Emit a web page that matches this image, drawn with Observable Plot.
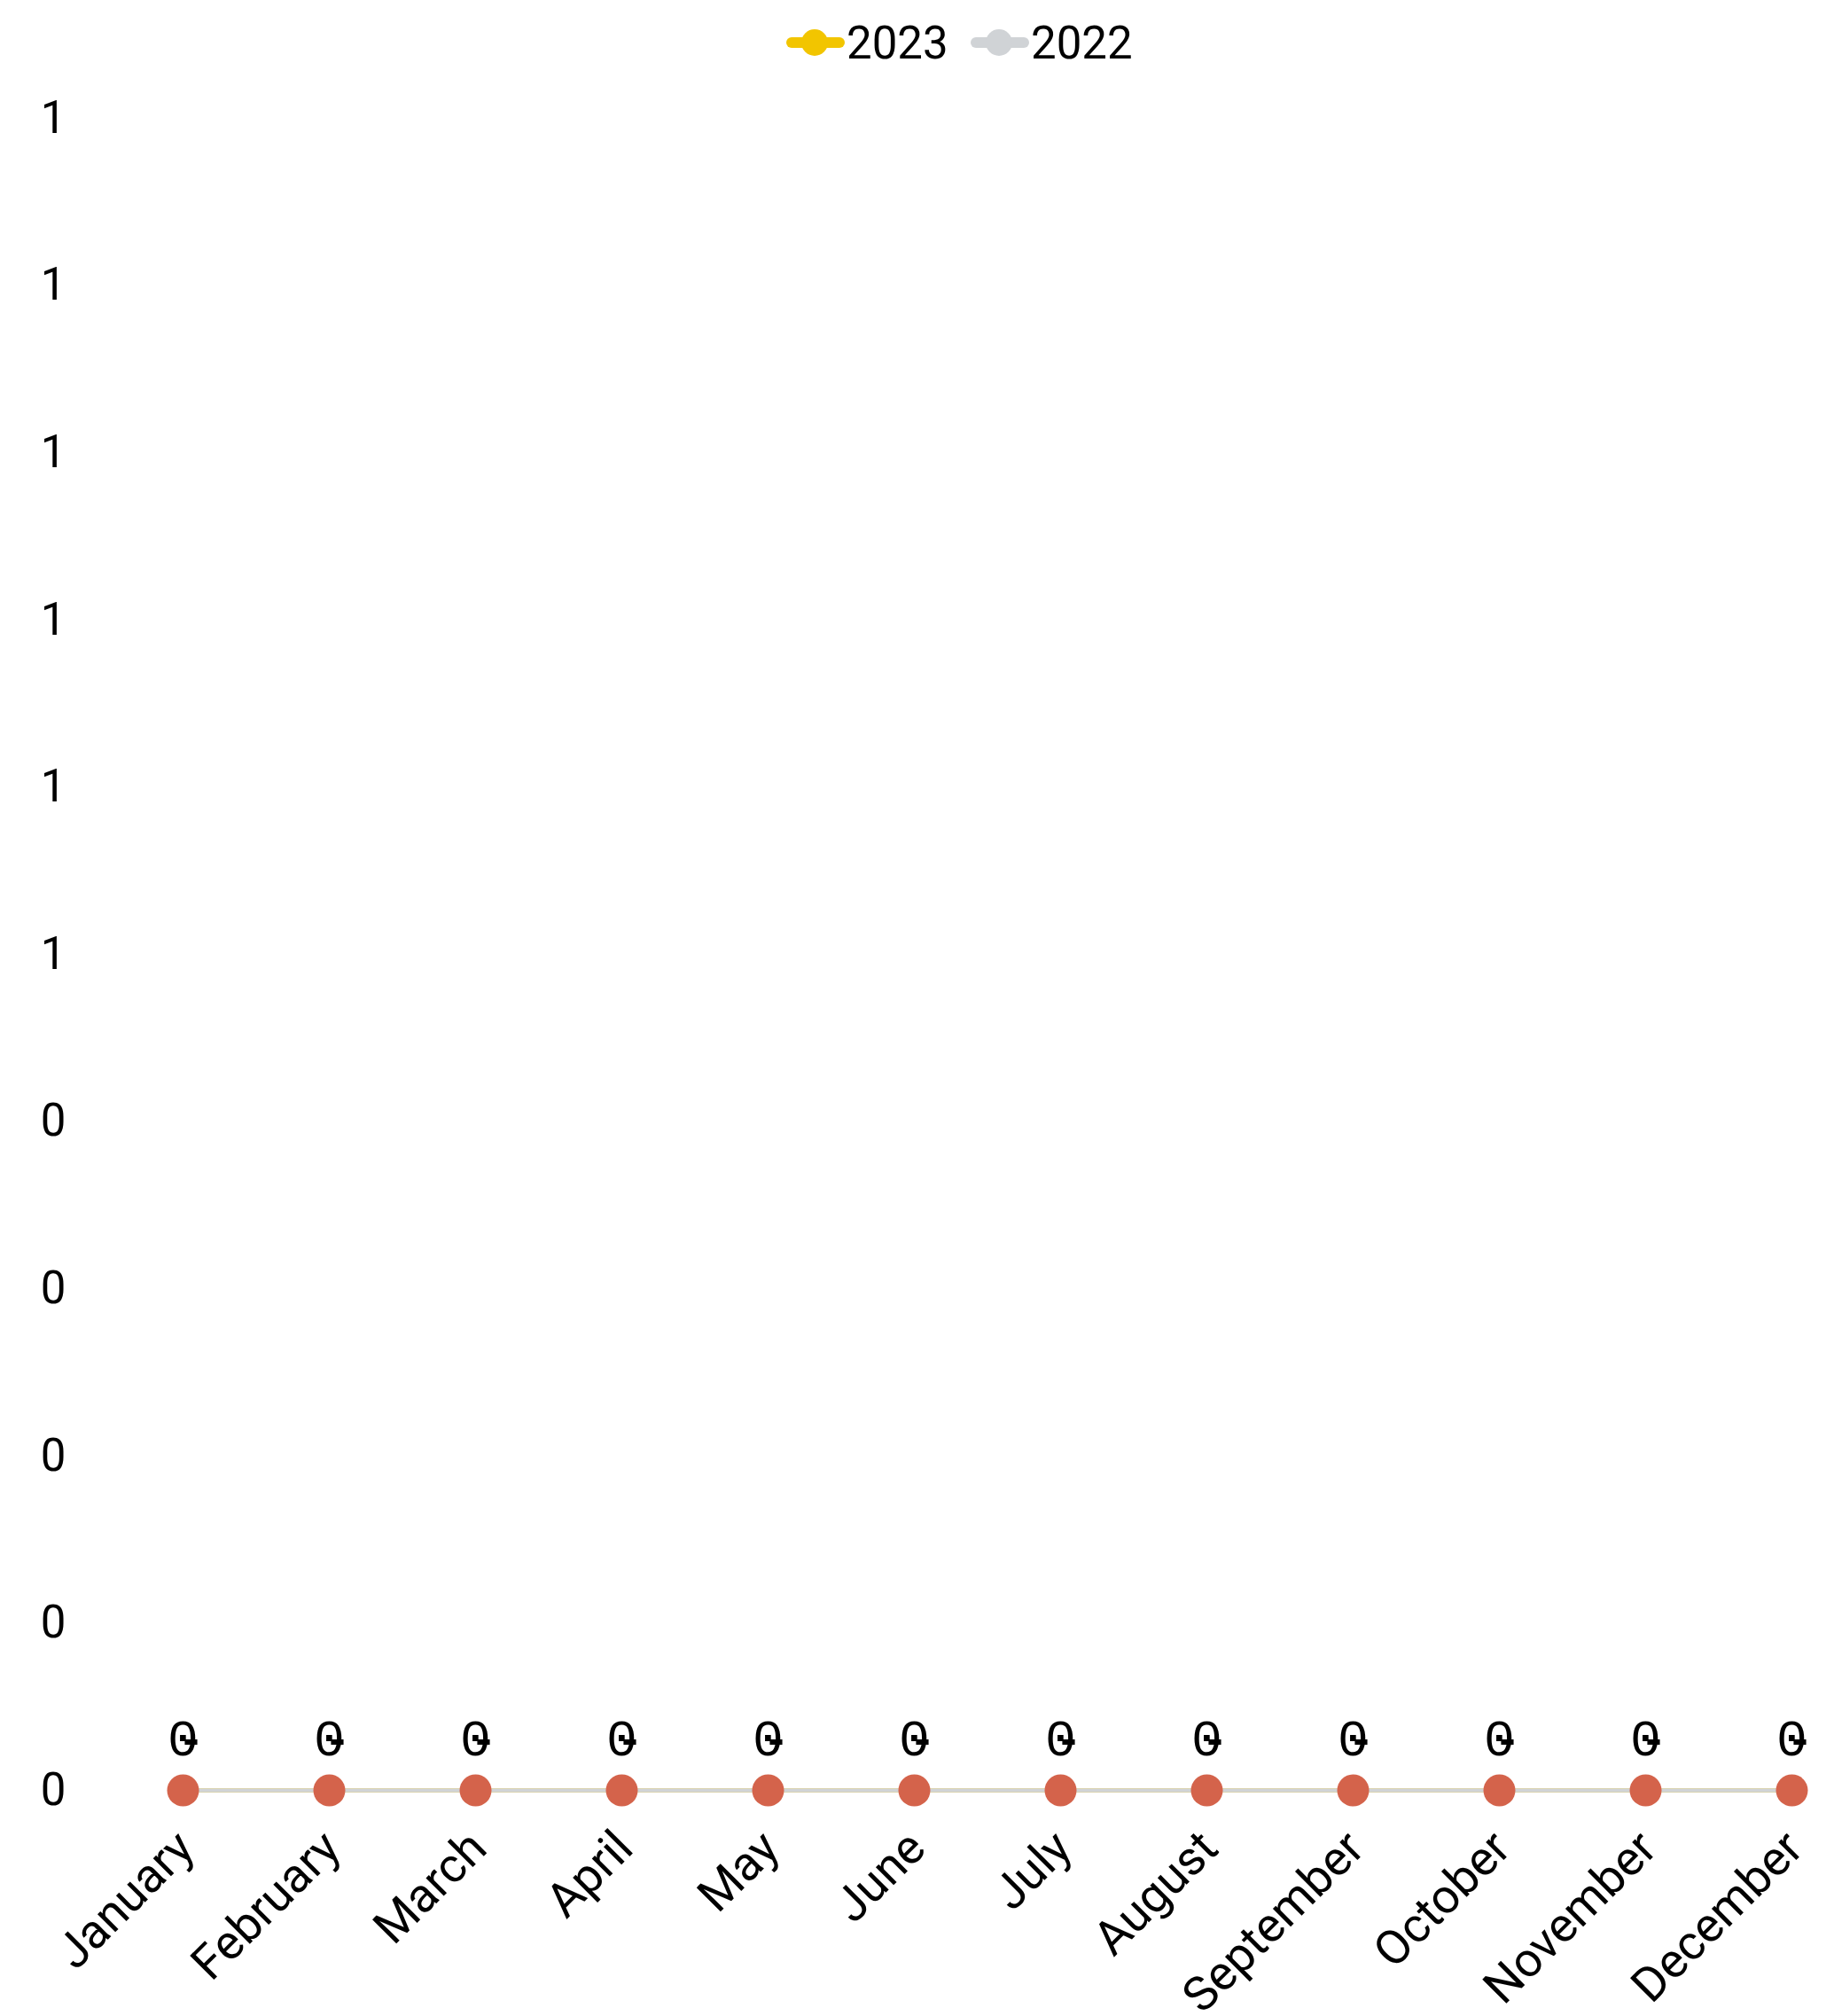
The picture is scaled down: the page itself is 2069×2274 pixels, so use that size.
<!DOCTYPE html>
<html>
<head>
<meta charset="utf-8">
<script src="https://cdn.jsdelivr.net/npm/d3@7"></script>
<script src="https://cdn.jsdelivr.net/npm/@observablehq/plot@0.6"></script>
<style>
  html, body { margin: 0; padding: 0; background: #fff; }
  body { width: 2069px; font-family: Roboto, sans-serif; }
  #legend { position: relative; height: 96px; }
  .item { position: absolute; top: 0; height: 96px; display: flex; align-items: center; font-size: 51px; color: #000; }
  .item svg { display: block; margin-right: 2px; }
</style>
</head>
<body>
<div id="legend"></div>
<div id="chart"></div>
<script>
// Monthly comparison, current year vs previous year
const months = ["January", "February", "March", "April", "May", "June",
                "July", "August", "September", "October", "November", "December"];
const values2023 = [0, 0, 0, 0, 0, 0, 0, 0, 0, 0, 0, 0];
const values2022 = [0, 0, 0, 0, 0, 0, 0, 0, 0, 0, 0, 0];
const changeLabels = ["-", "-", "-", "-", "-", "-", "-", "-", "-", "-", "-", "-"];
const yTicks = [0, 0.1, 0.2, 0.3, 0.4, 0.5, 0.6, 0.7, 0.8, 0.9, 1];
const seriesNames = ["2023", "2022"];
const seriesColors = ["#f2c500", "#d0d3d6"];
const pointColor = "#d4634b";

const rows2023 = months.map((m, i) => ({month: m, value: values2023[i], change: changeLabels[i]}));
const rows2022 = months.map((m, i) => ({month: m, value: values2022[i]}));

// Legend: line-with-dot swatches
const legend = document.getElementById("legend");
const legendX = [887, 1095];
seriesNames.forEach((name, i) => {
  const item = document.createElement("div");
  item.className = "item";
  item.style.left = legendX[i] + "px";
  item.innerHTML =
    `<svg width="66" height="40" viewBox="0 0 66 40">
       <line x1="6" y1="20" x2="60" y2="20" stroke="${seriesColors[i]}" stroke-width="12" stroke-linecap="round"/>
       <circle cx="32" cy="20" r="15" fill="${seriesColors[i]}"/>
     </svg><span>${name}</span>`;
  legend.appendChild(item);
});

const fmt = d3.format(".0f");

const chart = Plot.plot({
  width: 2069,
  height: 2178,
  marginTop: 37,
  marginBottom: 255,
  marginLeft: 203,
  marginRight: 45,
  style: {fontFamily: "Roboto, sans-serif", fontSize: "51px", color: "#000", background: "#fff"},
  x: {type: "point", domain: months, padding: 0},
  y: {domain: [0, 1]},
  marks: [
    Plot.axisY({ticks: yTicks, tickFormat: fmt, tickSize: 0, tickPadding: 129, label: null}),
    Plot.axisX({tickRotate: -45, tickSize: 0, tickPadding: 56, dx: 3, fontSize: 54, label: null}),
    Plot.line(rows2023, {x: "month", y: "value", stroke: seriesColors[0], strokeWidth: 4.5}),
    Plot.line(rows2022, {x: "month", y: "value", stroke: seriesColors[1], strokeWidth: 4.5}),
    Plot.dot(rows2023, {x: "month", y: "value", r: 18, fill: pointColor, stroke: "none"}),
    Plot.text(rows2023, {x: "month", y: "value", text: d => fmt(d.value), dy: -58,
      fontFamily: "Liberation Mono, monospace", fontSize: 58, fill: "#000"}),
    Plot.text(rows2023, {x: "month", y: "value", text: "change", dy: -58, dx: 9,
      fontFamily: "Liberation Mono, monospace", fontSize: 50, fontWeight: "bold", fill: "#000"})
  ]
});
document.getElementById("chart").appendChild(chart);
</script>
</body>
</html>
